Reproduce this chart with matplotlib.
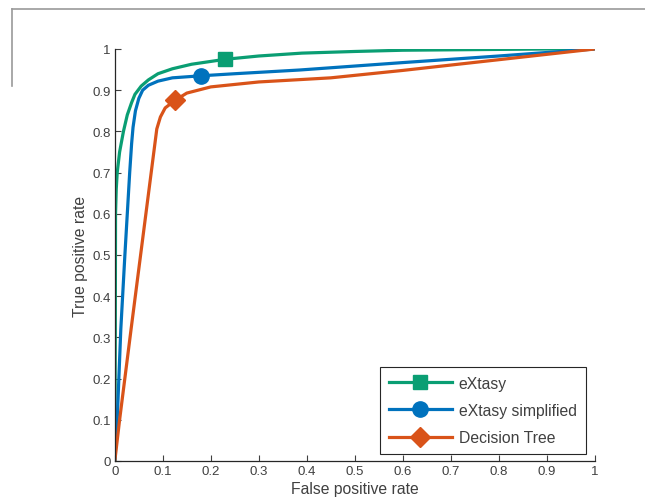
import matplotlib
matplotlib.use("Agg")
import matplotlib.pyplot as plt
from matplotlib.lines import Line2D

plt.rcParams["font.family"] = ["Liberation Sans", "DejaVu Sans"]

# ROC curves
extasy_fpr = [0, 0.001, 0.0015, 0.003, 0.005, 0.01, 0.018, 0.026, 0.035, 0.042, 0.055,
              0.07, 0.09, 0.12, 0.16, 0.23, 0.3, 0.39, 0.5, 0.6, 0.7, 0.8, 0.9, 1.0]
extasy_tpr = [0, 0.3, 0.6, 0.66, 0.7, 0.75, 0.8, 0.84, 0.87, 0.89, 0.91,
              0.925, 0.94, 0.952, 0.963, 0.975, 0.983, 0.99, 0.994, 0.997, 0.998, 0.999, 1.0, 1.0]

simpl_fpr = [0, 0.005, 0.0125, 0.021, 0.031, 0.035, 0.038, 0.043, 0.05, 0.058, 0.07,
             0.09, 0.12, 0.18, 0.25, 0.385, 0.6, 0.8, 1.0]
simpl_tpr = [0, 0.1, 0.32, 0.5, 0.7, 0.77, 0.81, 0.85, 0.88, 0.9, 0.912,
             0.922, 0.93, 0.935, 0.94, 0.949, 0.967, 0.983, 1.0]

tree_fpr = [0, 0.01, 0.035, 0.0875, 0.095, 0.105, 0.125, 0.15, 0.2, 0.3, 0.45, 0.6, 0.8, 1.0]
tree_tpr = [0, 0.1, 0.33, 0.806, 0.835, 0.857, 0.875, 0.893, 0.908, 0.92, 0.93, 0.948, 0.974, 1.0]

# operating points shown with markers
extasy_pt = (0.23, 0.975)
simpl_pt = (0.18, 0.935)
tree_pt = (0.125, 0.875)

ticks = [0, 0.1, 0.2, 0.3, 0.4, 0.5, 0.6, 0.7, 0.8, 0.9, 1]
tick_labels = ["0", "0.1", "0.2", "0.3", "0.4", "0.5", "0.6", "0.7", "0.8", "0.9", "1"]

GREEN = "#0a9e73"
BLUE = "#0072bd"
ORANGE = "#d95319"
GREY = "#404040"

fig = plt.figure(figsize=(6.45, 5.02), dpi=100)
ax = fig.add_axes([0.178, 0.0797, 0.744, 0.8207])

series = [
    (extasy_fpr, extasy_tpr, extasy_pt, GREEN, "s", 10, "eXtasy"),
    (simpl_fpr, simpl_tpr, simpl_pt, BLUE, "o", 11, "eXtasy simplified"),
    (tree_fpr, tree_tpr, tree_pt, ORANGE, "D", 10, "Decision Tree"),
]
handles = []
for fpr, tpr, pt, color, marker, ms, label in series:
    ax.plot(fpr, tpr, color=color, linewidth=2.3, solid_capstyle="butt")
    ax.plot([pt[0]], [pt[1]], marker=marker, color=color, markersize=ms, linestyle="none")
    handles.append(Line2D([], [], color=color, linewidth=2.3, marker=marker,
                          markersize=ms, label=label))

ax.set_xlim(0, 1)
ax.set_ylim(0, 1)
ax.set_xticks(ticks)
ax.set_xticklabels(tick_labels)
ax.set_yticks(ticks)
ax.set_yticklabels(tick_labels)
ax.tick_params(direction="in", length=4, width=0.8, colors=GREY, labelsize=9.5, pad=3)
for side in ["top", "right"]:
    ax.spines[side].set_visible(False)
for side in ["left", "bottom"]:
    ax.spines[side].set_color("#262626")
    ax.spines[side].set_linewidth(0.9)

ax.set_xlabel("False positive rate", fontsize=11.3, color=GREY, labelpad=3)
ax.set_ylabel("True positive rate", fontsize=11.3, color=GREY, labelpad=3)

leg = ax.legend(handles=handles, loc="lower right", fontsize=11.3, handlelength=4.0,
                labelspacing=0.78, borderpad=0.57, handletextpad=0.45,
                borderaxespad=0, fancybox=False, framealpha=1,
                bbox_to_anchor=(0.981, 0.017))
leg.get_frame().set_edgecolor("#262626")
leg.get_frame().set_linewidth(0.8)
for t in leg.get_texts():
    t.set_color(GREY)

# window border left over from the screenshot
fig.add_artist(Line2D([12 / 645, 1.0], [1 - 10 / 502, 1 - 10 / 502],
                      transform=fig.transFigure, color="#9a9a9a", linewidth=1.2))
fig.add_artist(Line2D([12 / 645, 12 / 645], [1 - 10 / 502, 1 - 87 / 502],
                      transform=fig.transFigure, color="#9a9a9a", linewidth=1.2))

fig.savefig("out.png", dpi=100)
